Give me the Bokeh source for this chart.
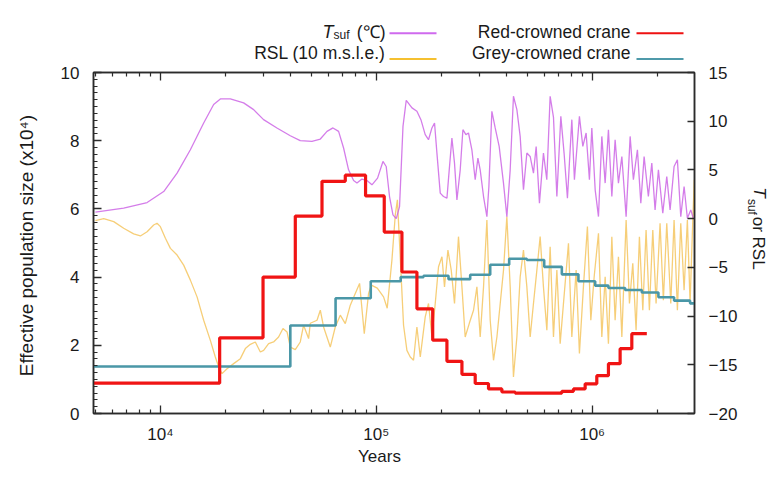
import math
from bokeh.plotting import figure
from bokeh.layouts import column, row
from bokeh.models import (Range1d, LinearAxis, LogAxis, FixedTicker, SingleIntervalTicker,
                          CustomJSTickFormatter)
from bokeh.core.properties import value
from bokeh.embed import file_html
from bokeh.resources import INLINE

# ---------------- data ----------------
# Red-crowned crane PSMC (interval start, years ; Ne x10^4)
red_years = [4000, 18820, 29890, 42170, 56060, 71870, 89220, 108900, 131500, 154300, 182600,
             212500, 249400, 287300, 331100, 381900, 440100, 723900, 819400, 928300, 1051000,
             1190000, 1348000, 1527000, 1792000]
red_ne = [0.89, 2.22, 4.00, 5.79, 6.81, 6.99, 6.38, 5.32, 4.15, 3.07, 2.15, 1.53, 1.15, 0.88,
          0.72, 0.63, 0.60, 0.65, 0.72, 0.87, 1.11, 1.46, 1.90, 2.34, 2.34]

# Grey-crowned crane PSMC
grey_years = [4000, 39990, 64800, 94300, 129800, 165600, 216100, 272400, 337200, 412800, 498500,
              599700, 723900, 864100, 1033000, 1190000, 1422000, 1699000, 2028000, 2397000,
              2843000, 3000000]
grey_ne = [1.38, 2.58, 3.38, 3.88, 4.00, 4.04, 3.94, 4.07, 4.36, 4.54, 4.50, 4.30, 4.08, 3.88,
           3.75, 3.68, 3.62, 3.55, 3.41, 3.31, 3.23, 3.23]

# Surface temperature (right axis)
tsuf_years = [5000, 6760, 8680, 10360, 11950, 13770, 15870, 17650, 18960, 21090, 24300, 27040,
              30060, 34670, 39980, 44460, 50360, 55070, 59140, 63020, 66920, 70580, 74430, 78520,
              81410, 85860, 90570, 95500, 101400, 107400, 111200, 115200, 119500, 123800, 128200,
              133000, 137700, 146400, 154300, 161000, 168600, 174600, 181100, 186200, 191000,
              197900, 204900, 212500, 217800, 224100, 230400, 236400, 244900, 252000, 260200,
              267500, 277300, 287300, 295700, 303000, 314000, 325500, 332500, 343200, 355600,
              371000, 388500, 402700, 417300, 432100, 448100, 464200, 480800, 498500, 516400,
              534900, 550500, 570200, 595000, 616600, 639000, 662200, 686500, 716200, 741400,
              768500, 805400, 827900, 873300, 905500, 937900, 971600, 996800, 1033000, 1070000,
              1109000, 1149000, 1190000, 1234000, 1278000, 1324000, 1373000, 1437000, 1500000,
              1553000, 1621000, 1681000, 1741000, 1822000, 1890000, 1957000, 2028000, 2125000,
              2217000, 2297000, 2397000, 2483000, 2574000, 2667000, 2762000, 2864000, 2944000]
tsuf_vals = [0.66, 1.07, 1.65, 2.78, 4.67, 7.07, 9.82, 11.71, 12.29, 12.29, 11.88, 11.19, 10.16,
             9.31, 8.51, 8.0, 7.93, 8.17, 8.96, 9.31, 8.96, 7.25, 5.01, 3.91, 3.65, 4.06, 3.91,
             3.47, 4.16, 5.87, 5.35, 2.27, 0.38, 0.0, 1.24, 9.47, 12.15, 11.37, 11.02, 10.16, 8.62,
             8.1, 9.31, 9.82, 6.73, 2.62, 2.27, 2.1, 5.01, 8.28, 5.7, 1.93, 5.01, 9.13, 8.62, 8.79,
             7.07, 3.99, 6.22, 5.01, 2.27, 0.21, 3.3, 11.02, 9.31, 7.41, 3.65, 0.21, 5.01, 12.56,
             11.19, 8.44, 2.96, 6.73, 6.38, 4.67, 7.41, 1.59, 6.73, 3.99, 12.56, 10.4, 2.27, 10.5,
             6.73, 2.1, 10.16, 3.99, 10.5, 7.41, 8.79, 3.99, 9.31, 2.96, 0.21, 8.44, 3.65, 9.13,
             2.27, 8.1, 3.65, 6.38, 0.21, 8.44, 3.99, 7.07, 1.59, 6.38, 2.27, 5.7, 0.9, 5.01, 0.56,
             4.32, 0.9, 5.35, 6.04, 0.21, 3.3, 0.04, 0.9, 0.0]

# Relative sea level (10 m s.l.e., right axis)
rsl_years = [5000, 5465, 6080, 6760, 7520, 8080, 8680, 9310, 9650, 10000, 10550, 11130, 11950,
             12820, 13770, 14790, 15870, 17040, 17970, 18620, 19300, 20360, 21850, 23470, 24750,
             26110, 27530, 29040, 30080, 31720, 33450, 35290, 36980, 38610, 39990, 42170, 44470,
             46060, 48600, 49490, 53160, 55060, 57020, 61240, 64600, 68130, 71870, 75800, 79950,
             83710, 88000, 92130, 94830, 101100, 108100, 112400, 118200, 122500, 125300, 129100,
             133800, 138700, 143700, 148800, 154300, 159900, 168600, 174600, 181100, 187600,
             194300, 201500, 207100, 214800, 222500, 230400, 240400, 249400, 258200, 269600,
             282200, 292600, 303000, 314000, 325500, 337200, 349300, 362200, 375200, 388600,
             402700, 417300, 432100, 448100, 464200, 480800, 498500, 516400, 534900, 554600,
             574500, 595000, 617000, 639000, 662200, 686500, 711100, 736600, 777000, 805400,
             843200, 873300, 911300, 951000, 986100, 1022000, 1070000, 1109000, 1149000, 1190000,
             1234000, 1278000, 1324000, 1373000, 1437000, 1489000, 1543000, 1598000, 1656000,
             1717000, 1778000, 1842000, 1910000, 1978000, 2064000, 2138000, 2217000, 2314000,
             2397000, 2483000, 2574000, 2667000, 2762000, 2843000, 2926000, 2975000]
rsl_vals = [-0.2, 0.0, -0.31, -0.99, -1.57, -1.78, -1.34, -0.65, -0.47, -0.82, -2.02, -3.05, -3.74,
            -4.77, -6.31, -8.03, -10.43, -12.49, -14.2, -15.23, -15.91, -15.4, -14.88, -14.37,
            -13.34, -12.9, -12.66, -13.69, -13.52, -12.83, -12.66, -12.15, -11.28, -11.63, -13.18,
            -13.44, -12.66, -10.94, -12.31, -10.74, -10.43, -9.4, -11.12, -13.18, -11.12, -9.91,
            -10.77, -8.88, -7.68, -6.65, -11.8, -7.68, -6.82, -7.13, -8.03, -9.19, -4.25, 0.38,
            1.93, -3.91, -10.94, -13.52, -14.2, -14.54, -11.12, -14.2, -10.09, -8.71, -12.15,
            -8.71, -4.94, -3.91, -7.0, -3.22, -5.28, -8.71, -1.85, -7.0, -12.15, -10.77, -9.4,
            -7.0, -12.15, -7.0, -0.13, -10.43, -14.54, -12.15, -8.71, -5.28, 0.21, -7.0, -16.26,
            -12.15, -5.97, -3.22, -7.0, -12.15, -8.71, -5.28, -1.85, -7.0, -11.46, -2.88, -12.15,
            -5.28, -12.83, -8.71, -2.53, -12.15, -5.28, -13.85, -7.0, -0.82, -10.43, -5.97, -1.5,
            -12.15, -5.97, -12.83, -1.85, -10.43, -3.91, -12.15, -0.13, -8.71, -4.59, -11.46,
            -1.85, -9.4, -1.16, -9.4, -1.16, -8.71, -0.47, -8.37, -0.47, -8.71, -0.13, -9.4,
            -0.47, -7.34, -0.13, -8.71, -0.13, 4.0]

x_major = [1e4, 1e5, 1e6]
legend_names = ["RSL (10 m.s.l.e.)", "Red-crowned crane", "Grey-crowned crane"]

# ---------------- styles ----------------
FONT = "Liberation Sans"
TXT = "#1a1a1a"
AX = "#2b2b2b"
C_RSL, C_TSUF, C_GREY, C_RED = "#f0ad1e", "#c95ce3", "#4a97a7", "#f01414"

W_MAIN, H_MAIN = 740, 383
W_TOTAL, H_LEG, H_BOT = 774, 64, 24

# ---------------- main figure ----------------
p = figure(width=W_MAIN, height=H_MAIN, x_axis_type="log",
           x_range=Range1d(4900, 2.98e6), y_range=Range1d(0, 10),
           output_backend="svg", toolbar_location=None,
           min_border_left=93, min_border_right=46, min_border_top=8, min_border_bottom=34)
p.extra_y_ranges = {"r": Range1d(-20, 15)}
p.grid.visible = False
p.outline_line_color = AX
p.outline_line_width = 1.5

minor_x = [m * 10 ** e for e in range(3, 7) for m in range(2, 10)]

def style_axis(ax, tick_in=8, minor_in=4):
    ax.axis_line_color = AX
    ax.axis_line_width = 1.5
    ax.major_tick_line_color = AX
    ax.major_tick_line_width = 1.3
    ax.minor_tick_line_color = AX
    ax.minor_tick_line_width = 1.2
    ax.major_tick_in = tick_in
    ax.major_tick_out = 0
    ax.minor_tick_in = minor_in
    ax.minor_tick_out = 0
    ax.major_label_text_font = FONT
    ax.major_label_text_font_size = "17px"
    ax.major_label_text_color = TXT
    ax.axis_label_text_font = FONT
    ax.axis_label_text_font_style = "normal"
    ax.axis_label_text_color = TXT

xb = p.xaxis[0]
xb.ticker = FixedTicker(ticks=x_major, minor_ticks=minor_x)
xb.formatter = CustomJSTickFormatter(
    code="const s={4:'10\u2074',5:'10\u2075',6:'10\u2076'}; return s[Math.round(Math.log10(tick))] || '';")
style_axis(xb)
xb.major_label_standoff = 11

xt = LogAxis(ticker=FixedTicker(ticks=x_major, minor_ticks=minor_x),
             formatter=CustomJSTickFormatter(code="return '';"))
style_axis(xt)
xt.major_label_text_font_size = "0px"
xt.major_label_standoff = 0
p.add_layout(xt, "above")

yl = p.yaxis[0]
yl.ticker = SingleIntervalTicker(interval=2, num_minor_ticks=10)
style_axis(yl)
yl.major_label_standoff = 14
yl.axis_label = "Effective population  size (x10\u2074)"
yl.axis_label_text_font_size = "19px"
yl.axis_label_standoff = 21

yr = LinearAxis(y_range_name="r", ticker=SingleIntervalTicker(interval=5, num_minor_ticks=0))
style_axis(yr, tick_in=7, minor_in=0)
yr.major_label_standoff = 14
p.add_layout(yr, "right")

p.line(rsl_years, rsl_vals, y_range_name="r", line_color=C_RSL, line_alpha=0.6, line_width=1.3)
p.line(tsuf_years, tsuf_vals, y_range_name="r", line_color=C_TSUF, line_alpha=0.8, line_width=1.3)
p.step(grey_years, grey_ne, mode="after", line_color=C_GREY, line_width=2.6)
p.step(red_years, red_ne, mode="after", line_color=C_RED, line_width=3.2)

# ---------------- helper figures (pixel coordinates) ----------------
def blank(w, h, x0, x1, ytop, ybot):
    f = figure(width=w, height=h, x_range=Range1d(x0, x1), y_range=Range1d(ybot, ytop),
               output_backend="svg", toolbar_location=None,
               x_axis_location=None, y_axis_location=None,
               min_border_left=0, min_border_right=0, min_border_top=0, min_border_bottom=0)
    f.grid.visible = False
    f.outline_line_color = None
    return f

def txt(f, x, y, s, size="17.5px", align="left", baseline="middle", style="normal", angle=0.0):
    f.text(x=[x], y=[y], text=[s], text_font=value(FONT), text_font_size=value(size),
           text_align=align, text_baseline=baseline, text_font_style=style,
           text_color=TXT, angle=angle)

# legend strip
ROW1, ROW2 = 31, 52.5
leg = blank(W_TOTAL, H_LEG, 0, W_TOTAL, 0, H_LEG)
txt(leg, 322, ROW1, "T", size="18px", style="italic")
txt(leg, 333, ROW1 + 3.5, "suf", size="12px")
txt(leg, 385, ROW1, "(\u2103)", align="right")
txt(leg, 385, ROW2, legend_names[0], align="right")
txt(leg, 630, ROW1, legend_names[1], align="right")
txt(leg, 630, ROW2, legend_names[2], align="right")
leg.segment(x0=[389, 389, 636, 636], y0=[32.7, 58.5, 32.7, 58.5],
            x1=[436, 436, 683, 683], y1=[32.7, 58.5, 32.7, 58.5],
            line_color=["#cf6aee", "#f5c030", "#ee1111", "#4f9aaa"], line_width=2)

# right-axis title strip
rt = blank(W_TOTAL - W_MAIN, H_MAIN, W_MAIN, W_TOTAL, H_LEG, H_LEG + H_MAIN)
ang = -math.pi / 2
txt(rt, 759, 193, "T", size="17px", style="italic", angle=ang)
txt(rt, 751, 206, "suf", size="12px", angle=ang)
txt(rt, 758, 226, "or RSL", size="17px", angle=ang)

# bottom strip with the x-axis title
bt = blank(W_TOTAL, H_BOT, 0, W_TOTAL, H_LEG + H_MAIN, H_LEG + H_MAIN + H_BOT)
txt(bt, 379, 455.5, "Years", size="17px", align="center")

layout = column(leg, row(p, rt, spacing=0), bt, spacing=0)
open("out.html", "w").write(file_html(layout, INLINE))
